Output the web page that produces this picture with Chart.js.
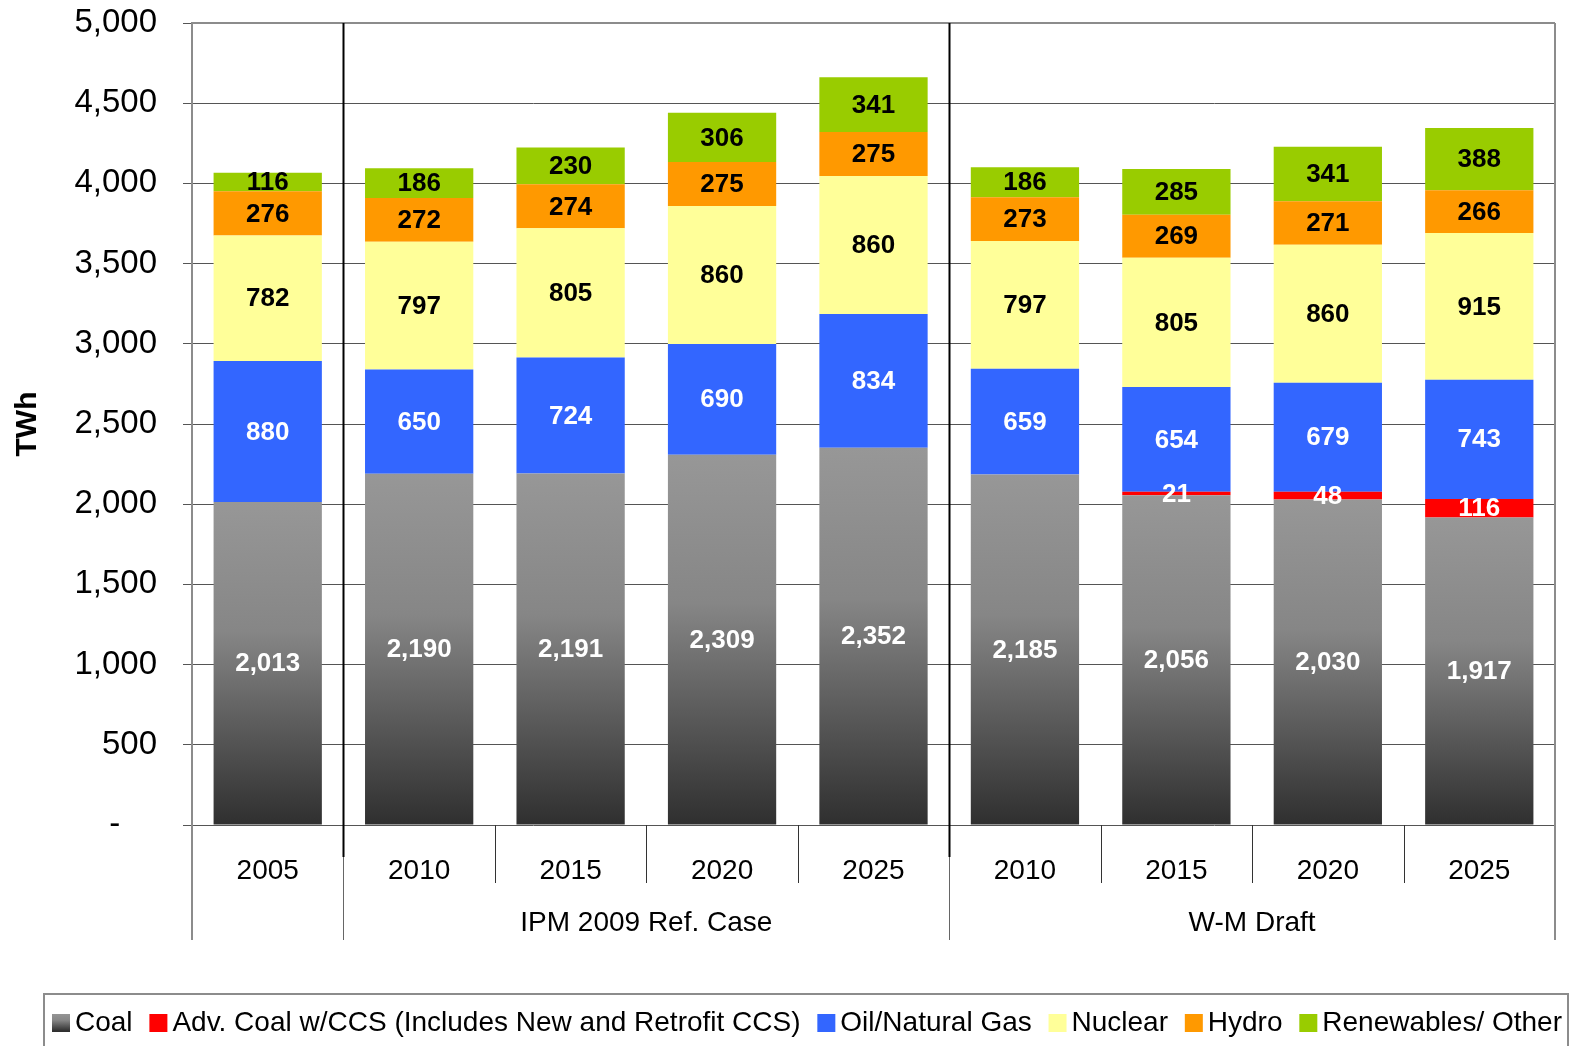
<!DOCTYPE html>
<html>
<head>
<meta charset="utf-8">
<script src="https://cdn.jsdelivr.net/npm/chart.js@4.4.0/dist/chart.umd.min.js"></script>
<style>
  html, body { margin: 0; padding: 0; background: #fff; }
  #wrap { width: 1574px; height: 1046px; }
</style>
</head>
<body>
<div id="wrap"><canvas id="chart"></canvas></div>
<script>
// x categories and the two groups under them
const years = ["2005", "2010", "2015", "2020", "2025", "2010", "2015", "2020", "2025"];
const groupLabels = ["", "IPM 2009 Ref. Case", "W-M Draft"];
const groupSizes = [1, 4, 4];

// TWh by fuel
const coal = [2013, 2190, 2191, 2309, 2352, 2185, 2056, 2030, 1917];
const advCoalCcs = [0, 0, 0, 0, 0, 0, 21, 48, 116];
const oilGas = [880, 650, 724, 690, 834, 659, 654, 679, 743];
const nuclear = [782, 797, 805, 860, 860, 797, 805, 860, 915];
const hydro = [276, 272, 274, 275, 275, 273, 269, 271, 266];
const renewables = [116, 186, 230, 306, 341, 186, 285, 341, 388];

const yTicks = [0, 500, 1000, 1500, 2000, 2500, 3000, 3500, 4000, 4500, 5000];

const FONT = "Liberation Sans, Arial, sans-serif";
const fmt = (v) => v.toLocaleString("en-US");

function grayRamp(c, top, bottom) {
  const g = c.createLinearGradient(0, top, 0, bottom);
  g.addColorStop(0, "#979797");
  g.addColorStop(0.4, "#868686");
  g.addColorStop(1, "#2f2f2f");
  return g;
}

// gray-to-dark fill for each coal bar
function coalFill(ctx) {
  const chart = ctx.chart;
  if (!chart.chartArea || ctx.raw === undefined) return "#777";
  const y = chart.scales.y;
  return grayRamp(chart.ctx, y.getPixelForValue(ctx.raw), y.getPixelForValue(0));
}

const segmentLabels = {
  id: "segmentLabels",
  afterDatasetsDraw(chart) {
    const c = chart.ctx;
    c.save();
    c.font = "bold 26px " + FONT;
    c.textAlign = "center";
    c.textBaseline = "middle";
    chart.data.datasets.forEach((ds, i) => {
      const meta = chart.getDatasetMeta(i);
      meta.data.forEach((bar, j) => {
        const v = ds.data[j];
        if (!v) return;
        c.fillStyle = ds.labelColor;
        c.fillText(fmt(v), bar.x, (bar.y + bar.base) / 2 + 1);
      });
    });
    c.restore();
  }
};

// one-row legend in a framed box under the axis
const boxLegend = {
  id: "boxLegend",
  afterDraw(chart) {
    const c = chart.ctx;
    const sets = chart.data.datasets;
    c.save();
    c.strokeStyle = "#8c8c8c";
    c.lineWidth = 2;
    c.strokeRect(44, 994, 1524, 80);
    c.font = "28px " + FONT;
    c.textBaseline = "middle";
    const widths = sets.map((ds) => c.measureText(ds.label).width);
    const used = widths.reduce((s, w) => s + w, 0) + sets.length * 23;
    const gap = Math.max(6, Math.min(20, (1510 - used) / (sets.length - 1)));
    let x = 52;
    const cy = 1022;
    sets.forEach((ds, i) => {
      c.fillStyle = i === 0 ? grayRamp(c, cy - 9, cy + 9) : ds.backgroundColor;
      c.fillRect(x, cy - 8, 18, 18);
      c.fillStyle = "#000";
      c.fillText(ds.label, x + 23, cy + 1);
      x += 23 + widths[i] + gap;
    });
    c.restore();
  }
};

const axisFrame = {
  id: "axisFrame",
  afterDraw(chart) {
    const c = chart.ctx;
    const a = chart.chartArea;
    const x = chart.scales.x;
    const cw = (x.right - x.left) / years.length;
    const bx = (i) => Math.round(x.left + i * cw) + 0.5;
    const axisBottom = a.bottom + 115;
    c.save();
    // top and right frame
    c.strokeStyle = "#8c8c8c";
    c.lineWidth = 2;
    c.beginPath();
    c.moveTo(a.left, a.top);
    c.lineTo(a.right, a.top);
    c.moveTo(a.right, a.top);
    c.lineTo(a.right, axisBottom);
    c.moveTo(a.left, a.bottom);
    c.lineTo(a.left, axisBottom);
    c.stroke();
    // separators between years
    c.strokeStyle = "#333";
    c.lineWidth = 1;
    c.beginPath();
    let idx = 0;
    const groupEdges = [0];
    groupSizes.forEach((n) => { idx += n; groupEdges.push(idx); });
    for (let i = 1; i < years.length; i++) {
      if (groupEdges.includes(i)) continue;
      c.moveTo(bx(i), a.bottom);
      c.lineTo(bx(i), a.bottom + 58);
    }
    c.stroke();
    // group edges
    c.strokeStyle = "#666";
    c.beginPath();
    groupEdges.slice(1, -1).forEach((i) => {
      c.moveTo(bx(i), a.bottom);
      c.lineTo(bx(i), axisBottom);
    });
    c.stroke();
    c.strokeStyle = "#000";
    c.lineWidth = 2;
    c.beginPath();
    groupEdges.slice(1, -1).forEach((i) => {
      c.moveTo(bx(i), a.top);
      c.lineTo(bx(i), a.bottom + 32);
    });
    c.stroke();
    // group labels
    c.fillStyle = "#000";
    c.font = "28px " + FONT;
    c.textAlign = "center";
    c.textBaseline = "middle";
    groupLabels.forEach((t, g) => {
      const mid = x.left + ((groupEdges[g] + groupEdges[g + 1]) / 2) * cw;
      c.fillText(t, mid, a.bottom + 98);
    });
    c.restore();
  }
};

new Chart(document.getElementById("chart"), {
  type: "bar",
  data: {
    labels: years,
    datasets: [
      { label: "Coal", data: coal, backgroundColor: coalFill, labelColor: "#fff" },
      { label: "Adv. Coal w/CCS (Includes New and Retrofit CCS)", data: advCoalCcs, backgroundColor: "#ff0000", labelColor: "#fff" },
      { label: "Oil/Natural Gas", data: oilGas, backgroundColor: "#3366ff", labelColor: "#fff" },
      { label: "Nuclear", data: nuclear, backgroundColor: "#ffff99", labelColor: "#000" },
      { label: "Hydro", data: hydro, backgroundColor: "#ff9900", labelColor: "#000" },
      { label: "Renewables/ Other", data: renewables, backgroundColor: "#99cc00", labelColor: "#000" },
    ],
  },
  options: {
    responsive: true,
    maintainAspectRatio: false,
    animation: false,
    layout: { padding: { top: 23, right: 19, left: 0, bottom: 0 } },
    datasets: { bar: { barPercentage: 0.715, categoryPercentage: 1 } },
    scales: {
      x: {
        stacked: true,
        grid: { display: false },
        border: { display: false },
        ticks: { color: "#000", font: { family: FONT, size: 28 }, padding: 21, maxRotation: 0 },
        afterFit: (s) => { s.height = 1046 - 825; },
      },
      y: {
        stacked: true,
        min: 0,
        max: 5000,
        afterBuildTicks: (s) => { s.ticks = yTicks.map((v) => ({ value: v })); },
        afterFit: (s) => {
          s.width = 192;
          s.paddingTop = 0;
          s.paddingBottom = 0;
        },
        grid: { color: "#555", lineWidth: 1, tickLength: 9 },
        border: { color: "#8c8c8c", width: 2 },
        ticks: {
          color: "#000",
          font: { family: FONT, size: 33 },
          padding: 26,
          // accounting-style zero: a dash set in from the right edge
          callback: (v) => (v === 0 ? "-    " : fmt(v)),
        },
        title: {
          display: true,
          text: "TWh",
          color: "#000",
          font: { family: FONT, size: 30, weight: "bold" },
          padding: { top: 10, bottom: 4 },
        },
      },
    },
    plugins: {
      legend: { display: false },
      tooltip: { enabled: false },
    },
  },
  plugins: [segmentLabels, axisFrame, boxLegend],
});
</script>
</body>
</html>
